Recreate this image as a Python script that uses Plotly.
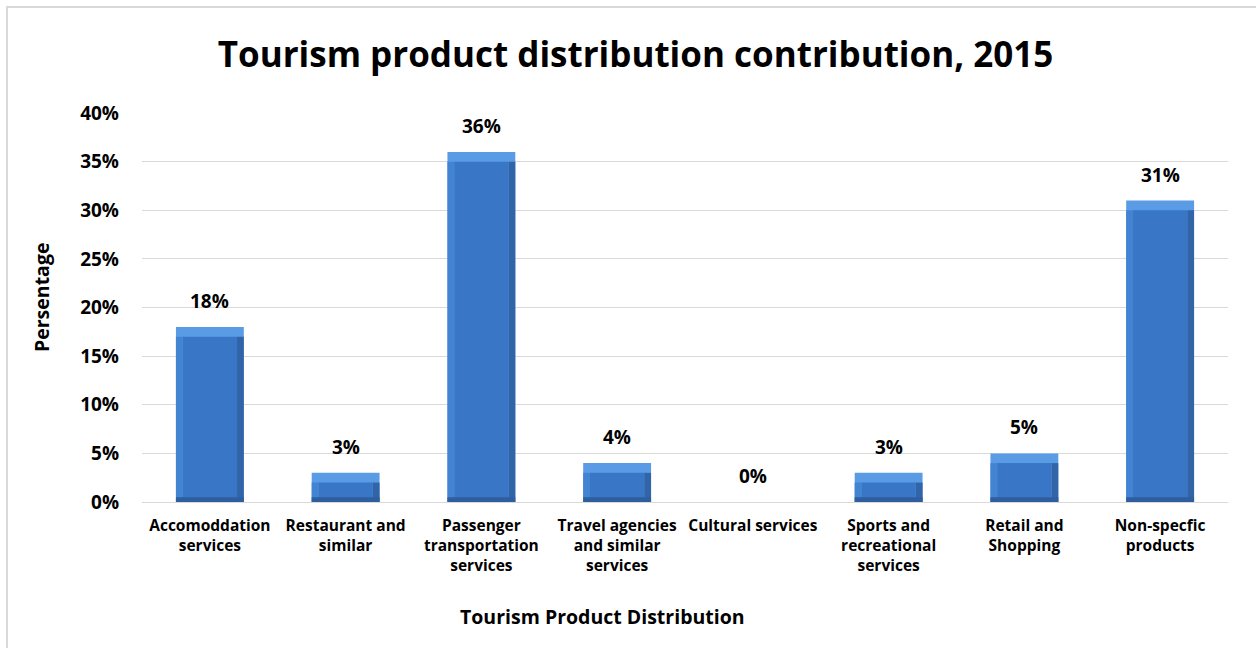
import numpy as np
import plotly.graph_objects as go

# Tourism product distribution, share of total (%)
categories = [
    "Accomoddation<br>services",
    "Restaurant and<br>similar",
    "Passenger<br>transportation<br>services",
    "Travel agencies<br>and similar<br>services",
    "Cultural services",
    "Sports and<br>recreational<br>services",
    "Retail and<br>Shopping",
    "Non-specfic<br>products",
]
shares = [18, 3, 36, 4, 0, 3, 5, 31]
y_ticks = [0, 5, 10, 15, 20, 25, 30, 35, 40]
y_tick_text = [f"{t}%" for t in y_ticks]

FONT = "Open Sans"
vals = np.array(shares, dtype=float)
bevel = 1.0
inner = np.clip(vals - bevel, 0, None)
foot = np.minimum(vals, 0.5)

fig = go.Figure()
# outer body (light top bevel shows above the inner face)
fig.add_trace(go.Bar(x=categories, y=vals, width=0.5,
                     marker=dict(color="#5a9be6", line=dict(width=0)), hoverinfo="skip"))
# darker right edge
fig.add_trace(go.Bar(x=categories, y=inner, width=0.05, offset=0.2,
                     marker=dict(color="#3265a8", line=dict(width=0)), hoverinfo="skip"))
# main face
fig.add_trace(go.Bar(x=categories, y=inner, width=0.4, offset=-0.2,
                     marker=dict(color="#3976c5", line=dict(width=0)),
                     hovertemplate="%{x}: %{y}%<extra></extra>"))
# slightly lighter left edge
fig.add_trace(go.Bar(x=categories, y=inner, width=0.05, offset=-0.25,
                     marker=dict(color="#4283d2", line=dict(width=0)), hoverinfo="skip"))
# darker foot of each bar
fig.add_trace(go.Bar(x=categories, y=foot, width=0.5,
                     marker=dict(color="#2f5e9f", line=dict(width=0)), hoverinfo="skip"))

# value labels above each bar
for c, v in zip(categories, shares):
    fig.add_annotation(x=c, y=v, text=f"{v}%", showarrow=False, yanchor="bottom", yshift=11,
                       font=dict(family=FONT, size=19, color="#000000", weight="bold"))

fig.update_layout(
    barmode="overlay",
    width=1256, height=648,
    margin=dict(l=142, r=28, t=113, b=146),
    paper_bgcolor="white", plot_bgcolor="white",
    showlegend=False,
    font=dict(family=FONT, color="#000000"),
    title=dict(text="Tourism product distribution contribution, 2015", x=0.506, xanchor="center",
               y=0.915, yanchor="middle", xref="container", yref="container",
               font=dict(family=FONT, size=35, color="#000000", weight="bold")),
    xaxis=dict(showgrid=False, showline=True, linecolor="#d9d9d9", linewidth=1,
               tickfont=dict(family=FONT, size=15.5, weight="bold", color="#000000"),
               ticks="", ticklabelstandoff=9, fixedrange=True),
    yaxis=dict(range=[0, 40], tickmode="array", tickvals=y_ticks, ticktext=y_tick_text,
               showgrid=True, gridcolor="#d9d9d9",
               gridwidth=1, zeroline=False, showline=False, ticks="", ticklabelstandoff=22,
               tickfont=dict(family=FONT, size=19, weight="bold", color="#000000"), fixedrange=True),
)

# axis titles
fig.add_annotation(text="Tourism Product Distribution", xref="paper", yref="paper",
                   x=(602 - 142) / 1086, y=(502 - 616) / 389, showarrow=False,
                   xanchor="center", yanchor="middle",
                   font=dict(family=FONT, size=19.5, weight="bold", color="#000000"))
fig.add_annotation(text="Persentage", xref="paper", yref="paper", textangle=-90,
                   x=(41 - 142) / 1086, y=(502 - 298) / 389, showarrow=False,
                   xanchor="center", yanchor="middle",
                   font=dict(family=FONT, size=19.5, weight="bold", color="#000000"))

# chart frame
fig.add_shape(type="rect", xref="paper", yref="paper",
              x0=(7 - 142) / 1086, x1=(1262 - 142) / 1086,
              y0=(502 - 660) / 389, y1=(502 - 7) / 389,
              line=dict(color="#d9d9d9", width=2), fillcolor="rgba(0,0,0,0)", layer="below")

fig.write_html("out.html")
